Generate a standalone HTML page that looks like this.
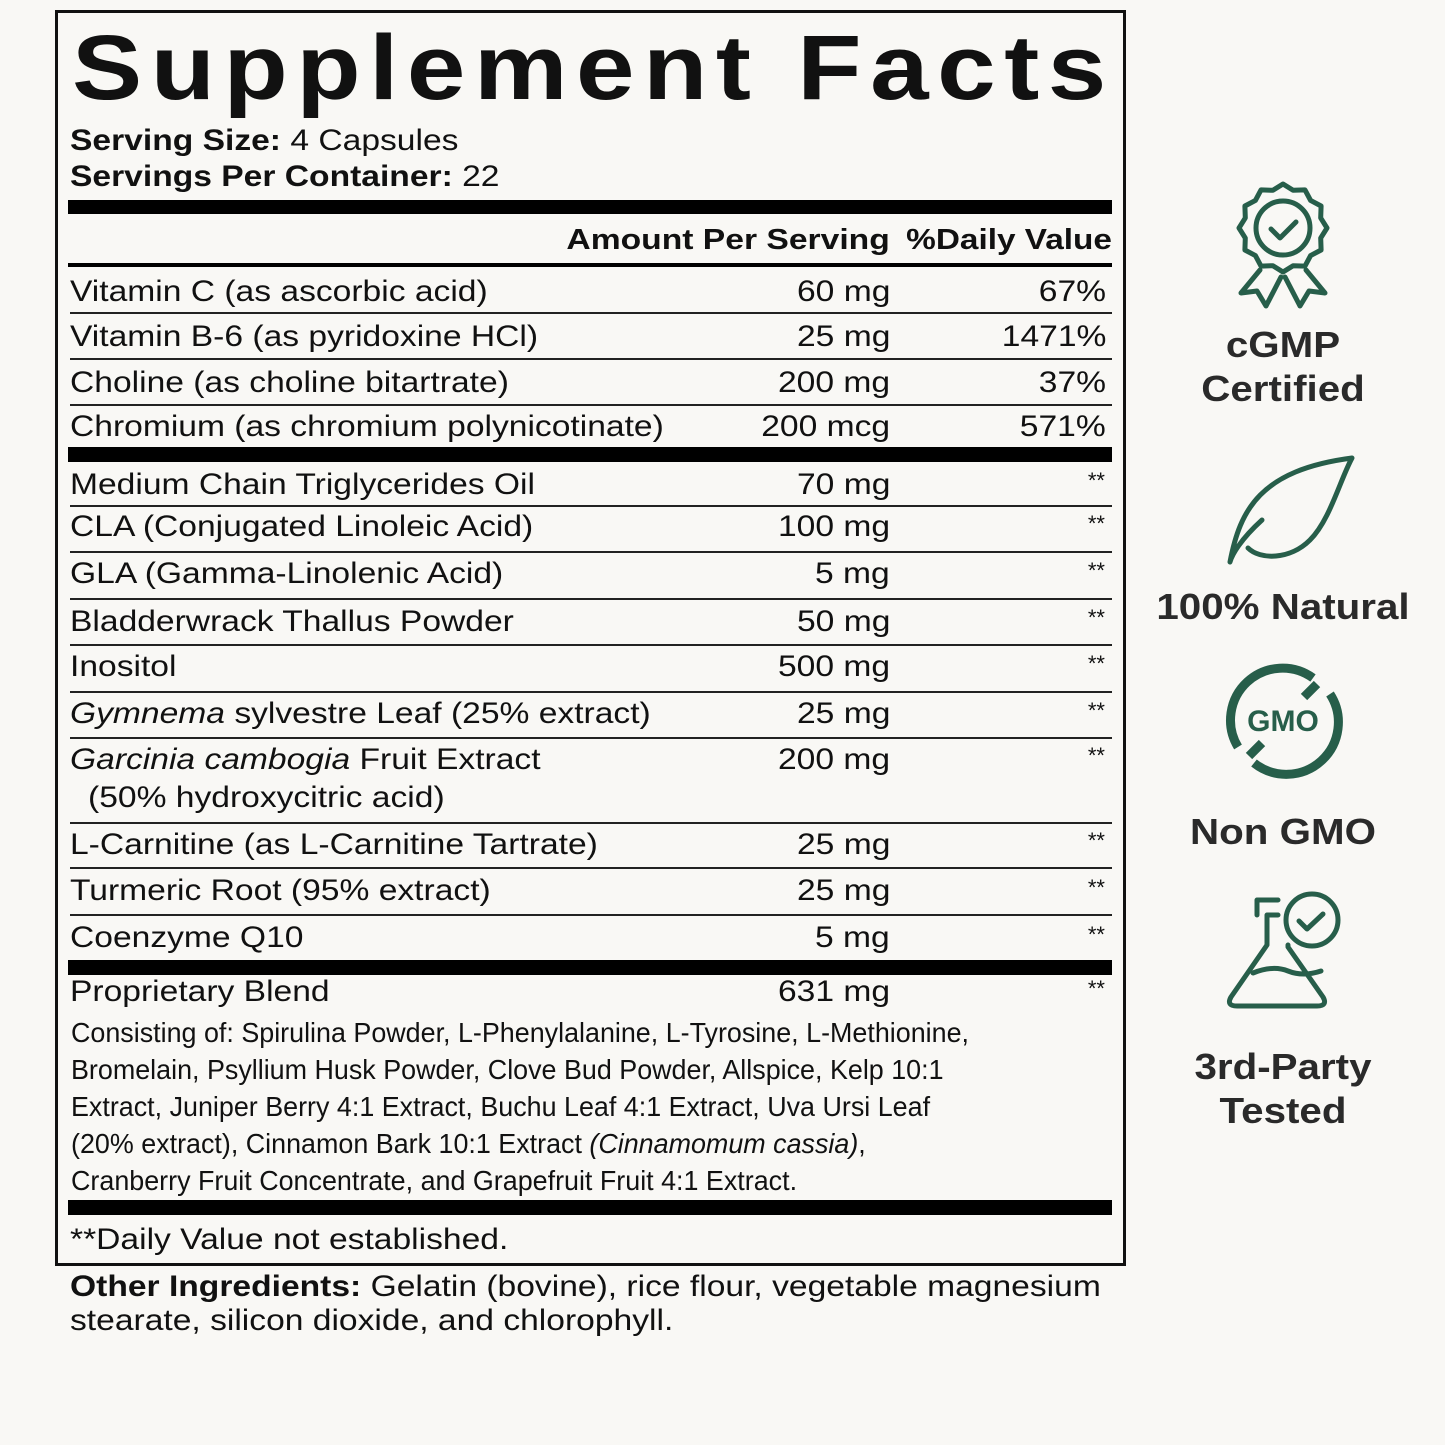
<!DOCTYPE html>
<html><head><meta charset="utf-8"><style>
*{margin:0;padding:0;box-sizing:border-box}
body{width:1445px;height:1445px;background:#f9f8f5;position:relative;overflow:hidden;font-family:"Liberation Sans",sans-serif;color:#111}
.a{position:absolute;white-space:nowrap;transform:scaleX(1.12);transform-origin:left}
.r{font-size:30px;line-height:36px}
.amt,.dv{position:absolute;font-size:30px;line-height:36px;white-space:nowrap;transform:scaleX(1.12);transform-origin:right}
.amt{right:555px}
.dv{right:339px}
.st{position:absolute;right:340px;font-size:22px;line-height:22px}
.ln{position:absolute;left:70px;width:1042px;height:2px;background:#222}
.tb{position:absolute;left:68px;width:1044px;background:#000}
.bl{position:absolute;left:71px;font-size:28px;line-height:37px;transform:scaleX(0.96);transform-origin:left;white-space:nowrap}
.ic{position:absolute;left:1283px;transform:translateX(-50%) scaleX(1.12);font-weight:bold;font-size:36px;line-height:44px;color:#2a2a2a;white-space:nowrap;text-align:center}
</style></head><body>
<div style="position:absolute;left:55px;top:10px;width:1071px;height:1256px;border:3px solid #111"></div>
<div class="a" style="left:72px;top:18px;font-size:92px;font-weight:bold;letter-spacing:7.5px;line-height:100px;transform:scaleX(1.143)">Supplement Facts</div>
<div class="a r" style="left:70px;top:123px"><b>Serving Size:</b> 4 Capsules</div>
<div class="a r" style="left:70px;top:159px"><b>Servings Per Container:</b> 22</div>
<div class="tb" style="top:200px;height:14px"></div>
<div class="amt" style="top:222px;font-size:29px;font-weight:bold;transform:scaleX(1.16)">Amount Per Serving</div>
<div class="dv" style="right:333px;top:222px;font-size:29px;font-weight:bold;transform:scaleX(1.15)">%Daily Value</div>
<div class="tb" style="top:263px;height:4px"></div>

<div class="a r" style="left:70px;top:274px">Vitamin C (as ascorbic acid)</div><div class="amt" style="top:274px">60 mg</div><div class="dv" style="top:274px">67%</div>
<div class="ln" style="top:312px"></div>
<div class="a r" style="left:70px;top:319px">Vitamin B-6 (as pyridoxine HCl)</div><div class="amt" style="top:319px">25 mg</div><div class="dv" style="top:319px">1471%</div>
<div class="ln" style="top:358px"></div>
<div class="a r" style="left:70px;top:365px">Choline (as choline bitartrate)</div><div class="amt" style="top:365px">200 mg</div><div class="dv" style="top:365px">37%</div>
<div class="ln" style="top:404px"></div>
<div class="a r" style="left:70px;top:409px">Chromium (as chromium polynicotinate)</div><div class="amt" style="top:409px">200 mcg</div><div class="dv" style="top:409px">571%</div>
<div class="tb" style="top:447px;height:15px"></div>

<div class="a r" style="left:70px;top:467px">Medium Chain Triglycerides Oil</div><div class="amt" style="top:467px">70 mg</div><div class="st" style="top:470px">**</div>
<div class="ln" style="top:505px"></div>
<div class="a r" style="left:70px;top:509px">CLA (Conjugated Linoleic Acid)</div><div class="amt" style="top:509px">100 mg</div><div class="st" style="top:513px">**</div>
<div class="ln" style="top:551px"></div>
<div class="a r" style="left:70px;top:556px">GLA (Gamma-Linolenic Acid)</div><div class="amt" style="top:556px">5 mg</div><div class="st" style="top:560px">**</div>
<div class="ln" style="top:598px"></div>
<div class="a r" style="left:70px;top:604px">Bladderwrack Thallus Powder</div><div class="amt" style="top:604px">50 mg</div><div class="st" style="top:607px">**</div>
<div class="ln" style="top:644px"></div>
<div class="a r" style="left:70px;top:649px">Inositol</div><div class="amt" style="top:649px">500 mg</div><div class="st" style="top:653px">**</div>
<div class="ln" style="top:691px"></div>
<div class="a r" style="left:70px;top:696px"><i>Gymnema</i> sylvestre Leaf (25% extract)</div><div class="amt" style="top:696px">25 mg</div><div class="st" style="top:700px">**</div>
<div class="ln" style="top:737px"></div>
<div class="a r" style="left:70px;top:742px"><i>Garcinia cambogia</i> Fruit Extract</div><div class="amt" style="top:742px">200 mg</div><div class="st" style="top:745px">**</div>
<div class="a r" style="left:88px;top:780px">(50% hydroxycitric acid)</div>
<div class="ln" style="top:822px"></div>
<div class="a r" style="left:70px;top:827px">L-Carnitine (as L-Carnitine Tartrate)</div><div class="amt" style="top:827px">25 mg</div><div class="st" style="top:830px">**</div>
<div class="ln" style="top:867px"></div>
<div class="a r" style="left:70px;top:873px">Turmeric Root (95% extract)</div><div class="amt" style="top:873px">25 mg</div><div class="st" style="top:877px">**</div>
<div class="ln" style="top:914px"></div>
<div class="a r" style="left:70px;top:920px">Coenzyme Q10</div><div class="amt" style="top:920px">5 mg</div><div class="st" style="top:924px">**</div>
<div class="tb" style="top:960px;height:15px"></div>

<div class="a r" style="left:70px;top:974px">Proprietary Blend</div><div class="amt" style="top:974px">631 mg</div><div class="st" style="top:978px">**</div>
<div class="bl" style="top:1014px">Consisting of: Spirulina Powder, L-Phenylalanine, L-Tyrosine, L-Methionine,</div>
<div class="bl" style="top:1051px">Bromelain, Psyllium Husk Powder, Clove Bud Powder, Allspice, Kelp 10:1</div>
<div class="bl" style="top:1088px">Extract, Juniper Berry 4:1 Extract, Buchu Leaf 4:1 Extract, Uva Ursi Leaf</div>
<div class="bl" style="top:1125px">(20% extract), Cinnamon Bark 10:1 Extract <i>(Cinnamomum cassia)</i>,</div>
<div class="bl" style="top:1162px">Cranberry Fruit Concentrate, and Grapefruit Fruit 4:1 Extract.</div>
<div class="tb" style="top:1200px;height:15px"></div>
<div class="a r" style="left:70px;top:1222px">**Daily Value not established.</div>
<div class="a r" style="left:70px;top:1269px"><b>Other Ingredients:</b> Gelatin (bovine), rice flour, vegetable magnesium</div>
<div class="a r" style="left:70px;top:1303px">stearate, silicon dioxide, and chlorophyll.</div>

<svg style="position:absolute;left:0;top:0" width="1445" height="1445" fill="none" stroke="#275e4a" stroke-width="5" stroke-linecap="round" stroke-linejoin="round">
<polygon points="1283,184 1293.1,190.3 1305,189.9 1310.6,200.4 1321.1,206 1320.7,217.9 1327,228 1320.7,238.1 1321.1,250 1310.6,255.6 1305,266.1 1293.1,265.7 1283,272 1272.9,265.7 1261,266.1 1255.4,255.6 1244.9,250 1245.3,238.1 1239,228 1245.3,217.9 1244.9,206 1255.4,200.4 1261,189.9 1272.9,190.3"/>
<circle cx="1283" cy="228" r="27"/>
<path d="M1271,229 l9,9 16,-16"/>
<path d="M1260,270 L1241,293 L1257,291 L1266,306 L1281,277"/>
<path d="M1306,270 L1325,293 L1309,291 L1300,306 L1285,277"/>
<path d="M1230,562 C1240,510 1260,470 1352,458 C1340,480 1330,520 1310,540 C1290,560 1260,560 1248,548 M1262,520 C1240,540 1232,555 1230,562"/>
<g stroke-width="9" stroke-linecap="butt"><path d="M1238,747 A52,52 0 0 1 1313,678"/><path d="M1330,694 A52,52 0 0 1 1254,763"/><path d="M1317,684 l-13,13 M1262,743 l-13,13"/></g>
<text x="1283" y="731" fill="#275e4a" stroke="none" font-family="Liberation Sans,sans-serif" font-weight="bold" font-size="30" text-anchor="middle">GMO</text>
<path d="M1267,935 V915 h11 M1278,900 h-21 v15 M1267,935 V945 l-36,52 q-5,9 6,9 h80 q11,0 6,-9 l-35,-50 V945 M1253,973 q20,-8 35,-2 t33,0"/>
<circle cx="1312" cy="920" r="26"/>
<path d="M1299,921 l8,8 16,-15"/>
</svg>
<div class="ic" style="top:323px">cGMP</div>
<div class="ic" style="top:367px">Certified</div>
<div class="ic" style="top:585px">100% Natural</div>
<div class="ic" style="top:810px">Non GMO</div>
<div class="ic" style="top:1045px">3rd-Party</div>
<div class="ic" style="top:1089px">Tested</div>
</body></html>
